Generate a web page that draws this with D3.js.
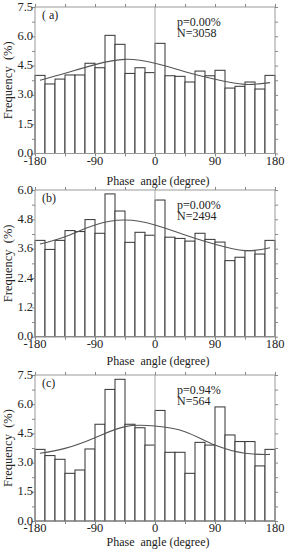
<!DOCTYPE html>
<html>
<head>
<meta charset="utf-8">
<script src="https://cdn.jsdelivr.net/npm/d3@7"></script>
<style>
  body { margin: 0; background: #fff; }
  text { font-family: "Liberation Serif", "Times New Roman", serif; fill: #222; }
</style>
</head>
<body>
<svg id="chart" width="289" height="550"></svg>
<script>
// bin left edges (15 degree bins)
let binLeft = [-180, -165, -150, -135, -120, -105, -90, -75, -60, -45, -30, -15,
               0, 15, 30, 45, 60, 75, 90, 105, 120, 135, 150, 165];

let freqA = [4.00, 3.56, 3.81, 4.02, 4.02, 4.62, 4.39, 6.05, 5.59, 4.10, 4.39, 4.14,
             5.64, 3.98, 3.95, 3.66, 4.22, 3.98, 4.26, 3.35, 3.44, 3.66, 3.30, 4.00];
let freqB = [3.94, 3.57, 3.94, 4.34, 4.30, 4.79, 4.23, 5.84, 5.14, 3.86, 4.27, 4.15,
             5.59, 4.07, 4.02, 3.91, 4.23, 3.98, 3.87, 3.11, 3.25, 3.52, 3.38, 3.94];
let freqC = [3.68, 3.36, 3.17, 2.45, 2.62, 3.70, 4.97, 6.76, 7.28, 4.97, 4.79, 3.90,
             5.68, 3.53, 3.53, 2.45, 4.04, 3.90, 5.86, 4.42, 4.08, 4.08, 2.83, 3.68];

// fitted curve
let fitX = [-172.5, -135, -90, -45, 0, 45, 90, 135, 172.5];
let fitA = [3.75, 4.11, 4.55, 4.82, 4.62, 4.19, 3.80, 3.54, 3.63];
let fitB = [3.79, 4.09, 4.57, 4.77, 4.57, 4.16, 3.78, 3.52, 3.64];
let fitC = [3.48, 3.73, 4.28, 4.85, 4.88, 4.59, 3.90, 3.48, 3.42];

let xLabels = [-180, -90, 0, 90, 180];
let xMinor = [-180, -135, -90, -45, 0, 45, 90, 135, 180];
let yLabelsA = [0, 1.5, 3.0, 4.5, 6.0, 7.5];
let yLabelsB = [0, 1.2, 2.4, 3.6, 4.8, 6.0];
let yMinorA = [0, 0.75, 1.5, 2.25, 3.0, 3.75, 4.5, 5.25, 6.0, 6.75, 7.5];
let yMinorB = [0, 0.6, 1.2, 1.8, 2.4, 3.0, 3.6, 4.2, 4.8, 5.4, 6.0];

let svg = d3.select("#chart");
let left = 35, right = 275;

let x = d3.scaleLinear().domain([-180, 180]).range([left, right]);

function drawPanel(p) {
    let y = d3.scaleLinear().domain([0, p.yMax]).range([p.bottom, p.top]);
    let g = svg.append("g");

    // bars
    g.selectAll(".bar")
        .data(p.freq)
        .enter().append("rect")
        .attr("class", "bar")
        .attr("x", function(d, i) { return x(binLeft[i]); })
        .attr("y", function(d) { return y(d); })
        .attr("width", x(binLeft[1]) - x(binLeft[0]))
        .attr("height", function(d) { return p.bottom - y(d); })
        .attr("fill", "#fff")
        .attr("stroke", "#333")
        .attr("stroke-width", 1);

    // zero line
    g.append("line")
        .attr("x1", x(0)).attr("x2", x(0))
        .attr("y1", p.top).attr("y2", p.bottom)
        .attr("stroke", "#aaa");

    // fit curve
    let line = d3.line()
        .x(function(d, i) { return x(fitX[i]); })
        .y(function(d) { return y(d); })
        .curve(d3.curveNatural);
    g.append("path")
        .datum(p.fit)
        .attr("d", line)
        .attr("fill", "none")
        .attr("stroke", "#555")
        .attr("stroke-width", 1.1);

    // frame
    g.append("rect")
        .attr("x", left).attr("y", p.top)
        .attr("width", right - left).attr("height", p.bottom - p.top)
        .attr("fill", "none")
        .attr("stroke", "#999");

    // axes (ticks only)
    let axisStyle = function(sel) {
        sel.select(".domain").remove();
        sel.selectAll(".tick line").attr("stroke", "#888");
    };

    g.append("g")
        .attr("transform", "translate(0," + p.bottom + ")")
        .call(d3.axisBottom(x).tickValues(xMinor).tickSize(3).tickFormat(""))
        .call(axisStyle);
    g.append("g")
        .attr("transform", "translate(0," + p.top + ")")
        .call(d3.axisTop(x).tickValues(xMinor).tickSize(3).tickFormat(""))
        .call(axisStyle);
    g.append("g")
        .attr("transform", "translate(" + right + ",0)")
        .call(d3.axisRight(y).tickValues(p.yMinor).tickSize(3).tickFormat(""))
        .call(axisStyle);
    g.append("g")
        .attr("transform", "translate(" + left + ",0)")
        .call(d3.axisLeft(y).tickValues(p.yMinor).tickSize(3).tickFormat(""))
        .call(axisStyle);

    // tick labels
    g.selectAll(".ylab")
        .data(p.yLabels)
        .enter().append("text")
        .attr("x", left - 2)
        .attr("y", function(d) { return y(d) + 3.5; })
        .attr("text-anchor", "end")
        .attr("font-size", "12.5px")
        .text(function(d) { return d3.format(".1f")(d); });

    g.selectAll(".xlab")
        .data(xLabels)
        .enter().append("text")
        .attr("x", function(d) { return x(d); })
        .attr("y", p.bottom + 11)
        .attr("text-anchor", "middle")
        .attr("font-size", "12.5px")
        .text(function(d) { return String(d); });

    // titles
    g.append("text")
        .attr("x", 158)
        .attr("y", p.titleY)
        .attr("text-anchor", "middle")
        .attr("font-size", "12px")
        .text("Phase\u00a0 angle (degree)");

    g.append("text")
        .attr("transform", "translate(12," + (p.top + p.bottom) / 2 + ") rotate(-90)")
        .attr("text-anchor", "middle")
        .attr("font-size", "12.5px")
        .text("Frequency\u00a0 (%)");

    g.append("text")
        .attr("x", 42)
        .attr("y", p.top + 12)
        .attr("font-size", "12px")
        .text(p.label);

    g.append("text")
        .attr("x", 177)
        .attr("y", p.top + 19)
        .attr("font-size", "12px")
        .text(p.pText);
    g.append("text")
        .attr("x", 177)
        .attr("y", p.top + 29.5)
        .attr("font-size", "12px")
        .text(p.nText);
}

drawPanel({ top: 7, bottom: 153.5, yMax: 7.5, freq: freqA, fit: fitA,
            yLabels: yLabelsA, yMinor: yMinorA, titleY: 185,
            label: "(\u00a0a)", pText: "p=0.00%", nText: "N=3058" });
drawPanel({ top: 190, bottom: 336.7, yMax: 6.0, freq: freqB, fit: fitB,
            yLabels: yLabelsB, yMinor: yMinorB, titleY: 365,
            label: "(b)", pText: "p=0.00%", nText: "N=2494" });
drawPanel({ top: 375, bottom: 521, yMax: 7.5, freq: freqC, fit: fitC,
            yLabels: yLabelsA, yMinor: yMinorA, titleY: 546,
            label: "(c)", pText: "p=0.94%", nText: "N=564" });
</script>
</body>
</html>
